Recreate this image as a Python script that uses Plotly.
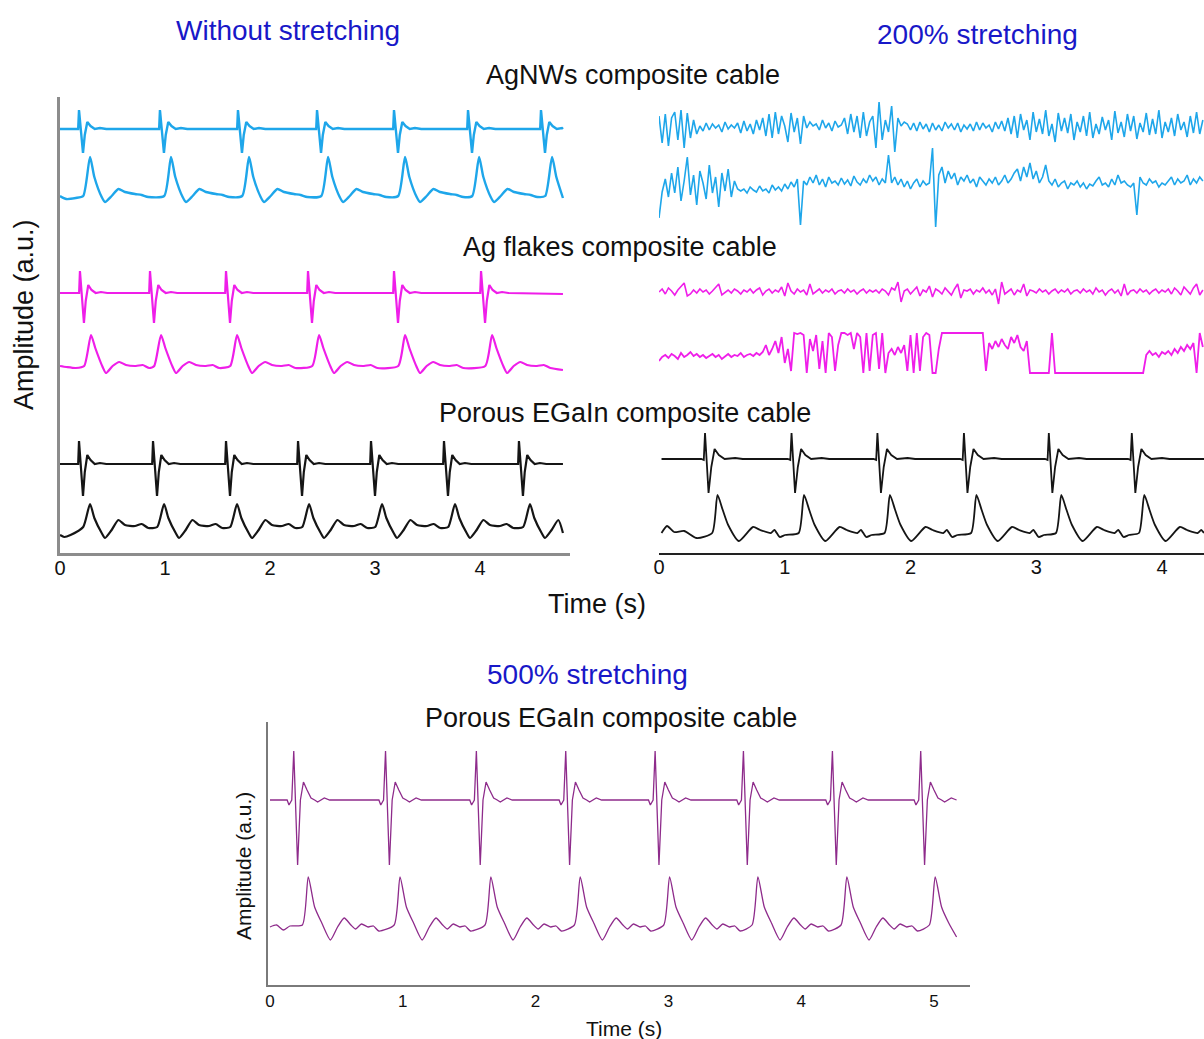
import plotly.graph_objects as go

W, H = 1204, 1039
FONT = "Liberation Sans"

# ---------------- beat times (s) ----------------
beats_agnw_0 = [0.181, 0.952, 1.695, 2.448, 3.181, 3.886, 4.581]
beats_agfl_0 = [0.190, 0.857, 1.581, 2.362, 3.181, 4.010]
beats_egain_0 = [0.181, 0.886, 1.581, 2.267, 2.962, 3.657, 4.371]
beats_egain_200 = [0.366, 1.054, 1.737, 2.425, 3.100, 3.760]
beats_egain_500 = [0.179, 0.870, 1.554, 2.227, 2.900, 3.565, 4.235, 4.900]

# ---------------- single-beat shapes (offset s, amplitude a.u.) ----------------
ecg_off_0 = [-0.03, -0.008, 0.0, 0.018, 0.038, 0.055, 0.079, 0.11, 0.15, 0.2, 0.26]
ecg_agnw_0 = [0, 0, 19, -2, -24, -6, 7, 3, 0, 1, 0]
ecg_agfl_0 = [0, 0, 22, -2, -30, -8, 8, 3, 0, 1, 0]
ecg_egain_0 = [0, 0, 23, -2, -32, -8, 9, 4, 0, 1, 0]

pulse_off_0 = [0.04, 0.105, 0.146, 0.216, 0.248, 0.311, 0.375, 0.438, 0.533, 0.597, 0.66]
pulse_agnw_0 = [0, 39, 19, -1, -6, 0, 7, 4, 2, 1, -1]
pulse_agfl_0 = [0, 31, 18, -1, -7, 0, 4, 1, 0, 1, -2]
pulse_egain_0 = [0, 23, 9, -6, -11, -3, 7, 2, 1, 3, -1]

ecg_off_200 = [-0.03, -0.01, 0.0, 0.014, 0.028, 0.05, 0.076, 0.11, 0.156, 0.24, 0.3]
ecg_egain_200 = [0, -1, 26, -4, -34, -8, 10, 4, 0, 1, 0]
pulse_off_200 = [0.057, 0.099, 0.141, 0.184, 0.269, 0.382, 0.439, 0.524, 0.552, 0.594, 0.637]
pulse_egain_200 = [0, 38, 23, 8, -8, 6, 3, 0, 3, -4, -2]

ecg_off_500 = [-0.05, -0.036, -0.015, 0.0, 0.015, 0.029, 0.05, 0.073, 0.1, 0.13, 0.157, 0.18, 0.23, 0.27]
ecg_egain_500 = [0, -5, 0, 49, -10, -65, 0, 18, 10, 2, 0, -2, 2, 0]
pulse_off_500 = [0.065, 0.109, 0.157, 0.211, 0.276, 0.33, 0.38, 0.43, 0.466, 0.51, 0.56, 0.6, 0.64]
pulse_egain_500 = [2, 50, 20, 4, -13, 0, 9, 2, -2, 3, 0, 1, -4]

# ---------------- 200 % stretched recordings, sampled every 25 ms ----------------
dt_200 = 0.025
agnw_200_ecg = [
    12, -15, 14, -18, 10, 16, -12, 18, -20, 15, -10, 8, -6,
    2, -3, 5, -2, 4, 0, 3, -4, 6, -1, 3, 0, 5, -5, 7, -3, 4, -6, 8, -2, 10, -8,
    14, -10, 16, -6, 12, 2, -14, 15, -4, 10, -16, 12, 0,
    6, 2, 4, -2, 8, 0, 5, -3, 7, 1, 3,
    10, -6, 14, -4, 12, -10, 16, -8, 6, 12, -20,
    26, -12, 8, -4, 22, -24, 10, 2, 6,
    4, -2, 5, -3, 6, -1, 4, -4, 5, -2, 3, -3, 6, 0, 4, -2, 5, -4, 3, -1, 4, -3, 6, -2, 5, 0, 3, -4, 6, -1, 7, -3,
    10, -6, 12, -10, 14, -2, 8, -12, 16, -4, 9, -6, 18, -8, 4, -14, 15, -3, 10, -5, 14, -12, 6, -4, 12, -8, 16,
    -10, 4, -6, 11, -2, 8, -12, 17, -5, 6, -9, 14, -3, 12, -11, 5, -4, 15, -7, 9, -6, 18, -10, 6, -4, 10, -8, 14,
    -2, 6, -9, 12, -5, 16, -6, 8,
]
agnw_200_pulse = [
    -31, -5,
    8, -10, 14, -6, 20, -14, 6, 30, -8, 12, -18, 16, 4, -12, 22, -6, 10, -20, 14, -4, 18, -10, 6, -2,
    -4, -2, -6, 0, -3, -5, 1, -4, -2, -6, 2, -3, 0, -4, 3, -2, 5, 0, 8,
    -38,
    6, 2, 10, 4, 12, 2, 8, 0, 10, 4, 6, 2, 9, 3, 7, 1, 11, 5, 2, 8, 4, 12, 6, 10, 2, 8, 4,
    32,
    4, 10, 2, 8, 0, 6, -2, 4, 8, 0, 6, 2, 4,
    39, -40,
    12, 20, 4, 16, 8, 14, 2, 10, 6, 12, 4, 8, 0, 10, 6, 2, 8, 4, 10, 2, 6, 12, 4, 8, 14,
    18, 6, 20, 10, 24, 8, 16, 4, 10,
    22,
    6, 2, 8, 0, 4, 6, -2, 4, 2, 6, 0, 4, -2, 3, 1, 6, 10, 2, 4, 0, 8, 2, 12, 4, 6, 2, 0, 4,
    -28,
    10, 4, 2, 8, 4, 6, 0, 4, 2, 6, 10, 2, 8, 4, 6, 12, 2, 8, 4, 10, 6,
]
agfl_200_ecg = [
    0, 3, -2, 4, 1, -3, 2, 5, 9, -4,
    -2, 2, -1, 3, 0, 2, -2, 1, 4, 8,
    -3, 0, 2, -1, 3, 1, -2, 2, 0, 3,
    -1, 2, 4, -3, 1, 3, -1, 2, 0, 5,
    -4, 9, 1, -2, 3, 0, 2, -3, 8, -2,
    1, 3, -1, 2, 0, 3, -2, 1, 2, -1,
    3, 0, 2, -2, 1, 3, -1, 2, 0, 2,
    -1, 3, 1, -3, 4, 2, 10, -10, 1, 3,
    -2, 2, 5, -4, 2, 0, 6, -5, 3, 1,
    -2, 4, 0, -3, 3, 8, -6, 2, 1, 3,
    -2, 2, 0, 4, -1, 2, -3, 3, -12, 10,
    -2, 1, 3, -3, 2, 0, 8, -4, 2, 1,
    -1, 3, 0, 2, -2, 1, 3, -1, 2, 0,
    3, -2, 1, 2, -1, 3, 0, 2, -2, 4,
    0, 2, -3, 1, 3, -1, 2, -4, 8, -3,
    1, 2, -1, 3, 0, 2, -2, 1, 3, -1,
    2, 0, 3, -2, 4, 1, -3, 5, 2, -2,
    4, 8, -3, 2,
]
agfl_200_pulse = [
    -4, 0, 2, -1, 3, 1, -2, 4, 0, 2, 5, 1, 3, 0, 2, -1, 1, 3, 0, 2, -2, 1, 3, 0, 2, 1, 4, 0, 2, 3, 1, 4, 2, 5,
    12, 2, 8, 16, 4, 20, -6,
    8, -14, 24, 23, 24, 22, -16, 18, 6, 22, -12, 16, -16, 24, 20, -14, 12, 24, 24, 22, 24, 8, 24, 20, -16,
    24, -14, 22, 24, -12, 24, -16, 4, 8, 2, 10, 4, 12, -14, 22, -16, 24, -14, 20, 24, 22, -16, -16, 8,
    24, 24, 24, 24, 24, 24, 24, 24, 24, 24, 24, 24, 24, 24,
    -14, 14, 8, 16, 10, 18, 12, 8, 20, 14, 22, 10, 6, 16,
    -16, -16, -16, -16, -16, -16, -16,
    24, -16,
    -16, -16, -16, -16, -16, -16, -16, -16, -16, -16, -16, -16, -16, -16,
    -16, -16, -16, -16, -16, -16, -16, -16, -16, -16, -16, -16, -16, -16,
    2, 6, 2, 4, 0, 5, 3, 6, 2, 8, 4, 10, 6, 12, 8, 14,
    -16, 24, 10,
]

# row baselines inside each panel (axis units, one unit per screen pixel)
ROW = {
    "agnw_ecg": -129, "agnw_pulse": -196,
    "agfl_ecg": -293, "agfl_pulse": -366,
    "egain_ecg": -464, "egain_pulse": -527,
    "agnw200_ecg": -128, "agnw200_pulse": -187,
    "agfl200_ecg": -292, "agfl200_pulse": -357,
    "egain200_ecg": -459, "egain200_pulse": -533,
    "egain500_ecg": -800, "egain500_pulse": -927,
}


def beat_train(beats, offs, amps, lead, tail):
    """Lay one beat shape at every beat time, between a lead-in and a tail."""
    t = [p[0] for p in lead]
    y = [p[1] for p in lead]
    lo, hi = lead[-1][0], tail[0][0]
    for b in beats:
        for o, a in zip(offs, amps):
            if lo < b + o < hi:
                t.append(b + o)
                y.append(a)
    t += [p[0] for p in tail]
    y += [p[1] for p in tail]
    return t, y


def sampled(vals, dt, t0=0.0):
    return [t0 + i * dt for i in range(len(vals))], vals


BLUE = "#1ea6ea"
MAGENTA = "#ef1ee9"
BLACK = "#151515"
PURPLE = "#8e2b8b"

traces = []


def add(t, y, row, color, width, xa, ya, shape="linear"):
    off = ROW[row]
    traces.append(go.Scatter(
        x=t, y=[off + v for v in y], mode="lines",
        line=dict(color=color, width=width, shape=shape, smoothing=0.6),
        xaxis=xa, yaxis=ya, hoverinfo="skip", showlegend=False))


T_END_0 = 4.79
# without stretching
add(*beat_train(beats_agnw_0, ecg_off_0, ecg_agnw_0, [(0.0, 0)], [(T_END_0, 0)]), "agnw_ecg", BLUE, 2.4, "x", "y")
add(*beat_train(beats_agnw_0, pulse_off_0, pulse_agnw_0, [(0.0, 0), (0.06, -3), (0.15, -2)], [(T_END_0, -2)]),
    "agnw_pulse", BLUE, 2.4, "x", "y", "spline")
add(*beat_train(beats_agfl_0, ecg_off_0, ecg_agfl_0, [(0.0, 0)], [(T_END_0, -1)]), "agfl_ecg", MAGENTA, 2.2, "x", "y")
add(*beat_train(beats_agfl_0, pulse_off_0, pulse_agfl_0, [(0.0, 0), (0.06, -1), (0.15, -2)], [(T_END_0, -4)]),
    "agfl_pulse", MAGENTA, 2.2, "x", "y", "spline")
add(*beat_train(beats_egain_0, ecg_off_0, ecg_egain_0, [(0.0, 0)], [(T_END_0, 0)]), "egain_ecg", BLACK, 2.2, "x", "y")
add(*beat_train(beats_egain_0, pulse_off_0, pulse_egain_0, [(0.0, -8), (0.04, -10), (0.1, -8)], [(T_END_0, -6)]),
    "egain_pulse", BLACK, 2.2, "x", "y", "spline")

# 200 % stretching
add(*sampled(agnw_200_ecg, dt_200), "agnw200_ecg", BLUE, 1.6, "x2", "y2")
add(*sampled(agnw_200_pulse, dt_200), "agnw200_pulse", BLUE, 1.6, "x2", "y2")
add(*sampled(agfl_200_ecg, dt_200), "agfl200_ecg", MAGENTA, 1.6, "x2", "y2")
add(*sampled(agfl_200_pulse, dt_200), "agfl200_pulse", MAGENTA, 1.8, "x2", "y2")
add(*beat_train(beats_egain_200, ecg_off_200, ecg_egain_200, [(0.02, 0)], [(4.334, 0)]),
    "egain200_ecg", BLACK, 1.8, "x2", "y2")
add(*beat_train(beats_egain_200, pulse_off_200, pulse_egain_200,
                [(0.02, 0), (0.064, 7), (0.12, 1), (0.2, 2), (0.3, -5)], [(4.334, 0)]),
    "egain200_pulse", BLACK, 1.8, "x2", "y2", "spline")

# 500 % stretching
add(*beat_train(beats_egain_500, ecg_off_500, ecg_egain_500, [(0.0, 0)], [(5.17, 0)]),
    "egain500_ecg", PURPLE, 1.3, "x3", "y3")
add(*beat_train(beats_egain_500, pulse_off_500, pulse_egain_500,
                [(0.0, 0), (0.05, 2), (0.1, -3), (0.15, 1)], [(5.17, -10)]),
    "egain500_pulse", PURPLE, 1.3, "x3", "y3", "spline")

fig = go.Figure(traces)


def PX(x):
    return x / W


def PY(y):
    return 1 - y / H


tick_font = dict(family=FONT, size=20, color="#111")
common = dict(showgrid=False, zeroline=False, ticks="", automargin=False)
fig.update_layout(
    width=W, height=H, margin=dict(l=0, r=0, t=0, b=0, pad=0),
    paper_bgcolor="white", plot_bgcolor="white",
    xaxis=dict(domain=[PX(60), PX(570)], range=[0, 510 / 105], showline=True, linecolor="#8c8c8c",
               linewidth=2.5, tickvals=[0, 1, 2, 3, 4], tickfont=tick_font, ticklabelstandoff=-5,
               **common),
    yaxis=dict(domain=[PY(553), PY(97)], range=[-553, -97], showline=True, linecolor="#8c8c8c",
               linewidth=2.5, showticklabels=False, **common),
    xaxis2=dict(domain=[PX(659), 1.0], range=[0, 545 / 125.75], showline=True,
                linecolor="#222", linewidth=1.5, tickvals=[0, 1, 2, 3, 4], tickfont=tick_font,
                ticklabelstandoff=-5, anchor="y2", **common),
    yaxis2=dict(domain=[PY(553), PY(97)], range=[-553, -97], visible=False, anchor="x2", **common),
    xaxis3=dict(domain=[PX(268), PX(970)], range=[-0.015, 700 / 132.8], showline=True,
                linecolor="#7a7a7a", linewidth=2, tickvals=[0, 1, 2, 3, 4, 5],
                tickfont=dict(family=FONT, size=17, color="#111"), anchor="y3", **common),
    yaxis3=dict(domain=[PY(985), PY(722)], range=[-985, -722], showline=True, linecolor="#7a7a7a",
                linewidth=2, showticklabels=False, anchor="x3", **common),
)

TITLE_BLUE = "#1818c8"
labels = [
    ("Without stretching", 288, 30, 28, TITLE_BLUE, 0),
    ("200% stretching", 977, 35, 28, TITLE_BLUE, 0),
    ("AgNWs composite cable", 633, 75, 27, "#111", 0),
    ("Ag flakes composite cable", 620, 247, 27, "#111", 0),
    ("Porous EGaIn composite cable", 625, 413, 27, "#111", 0),
    ("Amplitude (a.u.)", 24, 315, 27, "#111", -90),
    ("Time (s)", 597, 604, 27, "#111", 0),
    ("500% stretching", 587, 674, 28, TITLE_BLUE, 0),
    ("Porous EGaIn composite cable", 611, 718, 27, "#111", 0),
    ("Amplitude (a.u.)", 243, 866, 21, "#111", -90),
    ("Time (s)", 624, 1028, 21, "#111", 0),
]
for text, x, y, size, color, angle in labels:
    fig.add_annotation(text=text, x=PX(x), y=PY(y), xref="paper", yref="paper", showarrow=False,
                       xanchor="center", yanchor="middle", textangle=angle,
                       font=dict(family=FONT, size=size, color=color))

fig.write_html("out.html")
